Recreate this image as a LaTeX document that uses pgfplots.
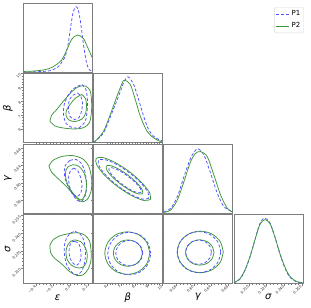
\documentclass[border=0pt]{standalone}
\usepackage{fontspec}
\setmainfont{DejaVu Sans}
\usepackage{pgfplots}
\pgfplotsset{compat=1.18}
\definecolor{pblue}{RGB}{80,80,255}
\definecolor{pgreen}{RGB}{60,150,60}
\definecolor{frame}{RGB}{125,125,125}
\pgfplotsset{
 corner/.style={scale only axis, width=69bp, height=69bp, anchor=north west,
   axis line style={draw=frame, line width=0.7bp},
   tick style={draw=frame, line width=0.35bp},
   major tick length=2bp, minor tick length=1.2bp,
   tick align=outside, tick pos=left, minor tick num=4,
   ticklabel style={font=\fontsize{3.6}{4}\selectfont, text=black!85},
   xticklabel style={rotate=45, anchor=east, inner sep=0.8bp},
   yticklabel style={rotate=45, anchor=east, inner sep=0.8bp},
   /pgf/number format/assume math mode=true,
   label style={font=\fontsize{6}{7}\selectfont},
   every axis x label/.style={at={(axis description cs:0.5,-0.2)}, anchor=center},
   every axis y label/.style={at={(axis description cs:-0.22,0.5)}, anchor=center, rotate=90},
 },
 epsx/.style={xmin=-0.55, xmax=0.25, xtick={-0.4,-0.2,0,0.2}},
 betax/.style={xmin=5, xmax=10, xtick={6,7,8,9,10}},
 gamx/.style={xmin=0.53, xmax=0.69, xtick={0.56,0.60,0.64,0.68}},
 sigx/.style={xmin=0.197, xmax=0.256, xtick={0.210,0.225,0.240,0.255}},
 betay/.style={ymin=5, ymax=10, ytick={6,7,8,9,10}},
 gamy/.style={ymin=0.53, ymax=0.69, ytick={0.56,0.60,0.64,0.68}},
 sigy/.style={ymin=0.197, ymax=0.256, ytick={0.210,0.225,0.240,0.255}},
 oned/.style={ymin=0, ymax=1, ytick=\empty},
 pone/.style={color=pblue, densely dashed, line width=0.75bp, smooth},
 ptwo/.style={color=pgreen, solid, line width=0.75bp, smooth},
}
\begin{document}
\begin{tikzpicture}
\useasboundingbox (0,0) rectangle (311bp,-308bp);
% ---------------- row 1: epsilon 1D
\begin{axis}[corner, at={(23bp,-3bp)}, epsx, oned, xticklabels={},
  legend style={at={(4.072,0.942)}, anchor=north east, draw=black!15, rounded corners=1.5bp,
    font=\fontsize{7}{8.5}\selectfont, inner sep=1.5bp, row sep=1.5bp},
  legend cell align=left,
  legend image code/.code={\draw[#1] (0bp,0bp) -- (13bp,0bp);}]
\addplot[pone] coordinates {(-0.55,0) (-0.45,0.002) (-0.35,0.006) (-0.30,0.010) (-0.237,0.019) (-0.141,0.077) (-0.063,0.222) (-0.025,0.416) (0.003,0.657) (0.033,0.874) (0.064,0.946) (0.091,0.899) (0.119,0.706) (0.149,0.416) (0.180,0.174) (0.207,0.054) (0.235,0.019) (0.25,0.012)};
\addlegendentry{P1}
\addplot[ptwo] coordinates {(-0.55,0.008) (-0.45,0.012) (-0.40,0.017) (-0.315,0.029) (-0.25,0.048) (-0.199,0.077) (-0.101,0.174) (-0.043,0.319) (0.015,0.474) (0.080,0.536) (0.149,0.488) (0.196,0.367) (0.25,0.213)};
\addlegendentry{P2}
\end{axis}
% ---------------- row 2
\begin{axis}[corner, at={(23bp,-73.5bp)}, epsx, betay, xticklabels={}, yticklabels={6,7,8,9,10}, ylabel={\textit{β}}]
\addplot[ptwo] coordinates {(-0.237,6.54) (-0.179,6.20) (-0.083,6.05) (0.053,5.98) (0.157,6.09) (0.221,6.45) (0.244,7.25) (0.244,8.12) (0.227,8.77) (0.175,9.09) (0.099,9.06) (0.018,8.70) (-0.075,8.04) (-0.159,7.39) (-0.220,6.96) (-0.237,6.54)};
\addplot[pone] coordinates {(0.134,9.20) (0.180,8.84) (0.198,7.97) (0.192,7.17) (0.169,6.52) (0.099,6.07) (0.018,6.09) (-0.051,6.38) (-0.080,7.03) (-0.075,7.68) (-0.028,8.41) (0.047,8.95) (0.134,9.20)};
\addplot[ptwo] coordinates {(0.131,8.48) (0.175,8.19) (0.186,7.68) (0.175,7.10) (0.134,6.70) (0.053,6.52) (-0.017,6.63) (-0.051,6.96) (-0.046,7.32) (-0.005,7.75) (0.053,8.19) (0.131,8.48)};
\addplot[pone] coordinates {(0.082,8.59) (0.122,8.33) (0.140,7.83) (0.128,7.25) (0.099,6.81) (0.047,6.67) (-0.005,6.88) (-0.022,7.39) (-0.017,7.97) (0.018,8.37) (0.082,8.59)};
\end{axis}
\begin{axis}[corner, at={(93.3bp,-73.5bp)}, betax, oned, xticklabels={}]
\addplot[pone] coordinates {(5.0,0.012) (5.145,0.019) (5.746,0.141) (6.355,0.430) (6.833,0.671) (7.196,0.865) (7.514,0.952) (7.920,0.841) (8.283,0.623) (8.645,0.381) (9.007,0.188) (9.370,0.091) (9.732,0.043) (10.0,0.025)};
\addplot[ptwo] coordinates {(5.0,0.010) (5.145,0.019) (5.746,0.164) (6.232,0.406) (6.717,0.671) (7.080,0.855) (7.246,0.903) (7.681,0.841) (8.043,0.623) (8.406,0.381) (8.891,0.164) (9.370,0.068) (9.804,0.019) (10.0,0.012)};
\end{axis}
% ---------------- row 3
\begin{axis}[corner, at={(23bp,-144bp)}, epsx, gamy, xticklabels={}, yticklabels={0.56,0.60,0.64,0.68}, ylabel={\textit{γ}}]
\addplot[ptwo] coordinates {(-0.249,0.639) (-0.202,0.652) (-0.101,0.661) (0.030,0.663) (0.146,0.655) (0.215,0.637) (0.247,0.607) (0.238,0.579) (0.192,0.561) (0.134,0.556) (0.076,0.564) (-0.040,0.590) (-0.144,0.610) (-0.220,0.625) (-0.249,0.639)};
\addplot[pone] coordinates {(-0.005,0.652) (0.064,0.654) (0.122,0.646) (0.169,0.625) (0.186,0.597) (0.175,0.572) (0.128,0.557) (0.076,0.560) (0.018,0.576) (-0.040,0.597) (-0.069,0.618) (-0.063,0.639) (-0.005,0.652)};
\addplot[ptwo] coordinates {(-0.028,0.637) (0.030,0.642) (0.099,0.638) (0.157,0.623) (0.186,0.600) (0.175,0.576) (0.134,0.561) (0.088,0.564) (0.018,0.579) (-0.034,0.597) (-0.057,0.616) (-0.051,0.630) (-0.028,0.637)};
\addplot[pone] coordinates {(0.035,0.634) (0.082,0.629) (0.117,0.613) (0.134,0.593) (0.117,0.575) (0.070,0.568) (0.018,0.576) (-0.011,0.593) (-0.022,0.611) (-0.005,0.626) (0.035,0.634)};
\end{axis}
\begin{axis}[corner, at={(93.3bp,-144bp)}, betax, gamy, xticklabels={}, yticklabels={}]
\addplot[ptwo] coordinates {(9.14,0.5615) (8.67,0.5590) (7.80,0.5699) (6.76,0.5912) (5.83,0.6172) (5.26,0.6411) (5.20,0.6561) (5.67,0.6587) (6.54,0.6478) (7.59,0.6265) (8.51,0.6005) (9.09,0.5766) (9.14,0.5615)};
\addplot[pone] coordinates {(9.02,0.5643) (8.59,0.5621) (7.78,0.5722) (6.82,0.5919) (5.96,0.6160) (5.43,0.6381) (5.37,0.6520) (5.80,0.6542) (6.61,0.6441) (7.57,0.6244) (8.43,0.6003) (8.96,0.5782) (9.02,0.5643)};
\addplot[ptwo] coordinates {(8.58,0.5752) (8.28,0.5741) (7.70,0.5817) (7.01,0.5963) (6.38,0.6135) (5.99,0.6290) (5.94,0.6388) (6.24,0.6399) (6.82,0.6323) (7.51,0.6177) (8.14,0.6005) (8.53,0.5850) (8.58,0.5752)};
\addplot[pone] coordinates {(8.46,0.5780) (8.20,0.5771) (7.70,0.5838) (7.09,0.5965) (6.54,0.6116) (6.19,0.6253) (6.14,0.6337) (6.41,0.6346) (6.91,0.6279) (7.52,0.6151) (8.07,0.6000) (8.42,0.5863) (8.46,0.5780)};
\end{axis}
\begin{axis}[corner, at={(163.6bp,-144bp)}, gamx, oned, xticklabels={}]
\addplot[pone] coordinates {(0.53,0.015) (0.5462,0.068) (0.5618,0.236) (0.5771,0.526) (0.5926,0.793) (0.6081,0.930) (0.6234,0.841) (0.6390,0.575) (0.6545,0.286) (0.6698,0.091) (0.6854,0.029) (0.69,0.020)};
\addplot[ptwo] coordinates {(0.53,0.008) (0.5462,0.043) (0.5618,0.188) (0.5771,0.454) (0.5926,0.743) (0.6042,0.865) (0.6158,0.890) (0.6313,0.816) (0.6466,0.551) (0.6622,0.261) (0.6777,0.068) (0.69,0.015)};
\end{axis}
% ---------------- row 4
\begin{axis}[corner, at={(23bp,-214.5bp)}, epsx, sigy, xticklabels={−0.4,−0.2,0.0,0.2}, yticklabels={0.210,0.225,0.240,0.255}, xlabel={\textit{ε}}, ylabel={\textit{σ}}]
\addplot[ptwo] coordinates {(-0.237,0.2300) (-0.196,0.2347) (-0.121,0.2378) (-0.028,0.2395) (0.088,0.2404) (0.169,0.2382) (0.221,0.2334) (0.238,0.2256) (0.238,0.2170) (0.204,0.2091) (0.146,0.2044) (0.076,0.2039) (-0.005,0.2070) (-0.098,0.2135) (-0.191,0.2191) (-0.231,0.2239) (-0.237,0.2300)};
\addplot[pone] coordinates {(0.053,0.2415) (0.117,0.2391) (0.157,0.2334) (0.175,0.2239) (0.163,0.2144) (0.128,0.2074) (0.076,0.2044) (0.018,0.2065) (-0.040,0.2126) (-0.069,0.2213) (-0.069,0.2300) (-0.040,0.2365) (0.007,0.2404) (0.053,0.2415)};
\addplot[ptwo] coordinates {(0.053,0.2343) (0.122,0.2326) (0.169,0.2282) (0.196,0.2213) (0.180,0.2144) (0.140,0.2109) (0.076,0.2104) (0.007,0.2130) (-0.040,0.2178) (-0.051,0.2248) (-0.028,0.2304) (0.012,0.2334) (0.053,0.2343)};
\addplot[pone] coordinates {(0.053,0.2330) (0.093,0.2313) (0.117,0.2265) (0.122,0.2200) (0.105,0.2148) (0.070,0.2126) (0.030,0.2144) (-0.005,0.2187) (-0.017,0.2248) (-0.005,0.2300) (0.018,0.2326) (0.053,0.2330)};
\end{axis}
\begin{axis}[corner, at={(93.3bp,-214.5bp)}, betax, sigy, xticklabels={6,7,8,9,10}, yticklabels={}, xlabel={\textit{β}}]
\addplot[ptwo] coordinates {(9.094,0.2230) (8.876,0.2321) (8.279,0.2388) (7.464,0.2412) (6.649,0.2388) (6.052,0.2321) (5.834,0.2230) (6.052,0.2139) (6.649,0.2072) (7.464,0.2048) (8.279,0.2072) (8.876,0.2139) (9.094,0.2230)};
\addplot[pone] coordinates {(9.167,0.2226) (8.958,0.2317) (8.388,0.2384) (7.609,0.2408) (6.830,0.2384) (6.260,0.2317) (6.051,0.2226) (6.260,0.2135) (6.830,0.2068) (7.609,0.2044) (8.388,0.2068) (8.958,0.2135) (9.167,0.2226)};
\addplot[ptwo] coordinates {(8.551,0.2230) (8.410,0.2286) (8.026,0.2328) (7.500,0.2343) (6.974,0.2328) (6.590,0.2286) (6.449,0.2230) (6.590,0.2174) (6.974,0.2132) (7.500,0.2117) (8.026,0.2132) (8.410,0.2174) (8.551,0.2230)};
\addplot[pone] coordinates {(8.587,0.2230) (8.456,0.2284) (8.098,0.2324) (7.609,0.2339) (7.120,0.2324) (6.762,0.2284) (6.631,0.2230) (6.762,0.2176) (7.120,0.2136) (7.609,0.2121) (8.098,0.2136) (8.456,0.2176) (8.587,0.2230)};
\end{axis}
\begin{axis}[corner, at={(163.6bp,-214.5bp)}, gamx, sigy, xticklabels={0.56,0.60,0.64,0.68}, yticklabels={}, xlabel={\textit{γ}}]
\addplot[ptwo] coordinates {(0.6684,0.2240) (0.6613,0.2329) (0.6418,0.2394) (0.6151,0.2418) (0.5884,0.2394) (0.5689,0.2329) (0.5618,0.2240) (0.5689,0.2151) (0.5884,0.2086) (0.6151,0.2062) (0.6418,0.2086) (0.6613,0.2151) (0.6684,0.2240)};
\addplot[pone] coordinates {(0.6625,0.2238) (0.6557,0.2326) (0.6373,0.2390) (0.6120,0.2414) (0.5867,0.2390) (0.5683,0.2326) (0.5615,0.2238) (0.5683,0.2150) (0.5867,0.2086) (0.6120,0.2062) (0.6373,0.2086) (0.6557,0.2150) (0.6625,0.2238)};
\addplot[ptwo] coordinates {(0.6468,0.2235) (0.6424,0.2289) (0.6304,0.2329) (0.6139,0.2344) (0.5974,0.2329) (0.5854,0.2289) (0.5810,0.2235) (0.5854,0.2181) (0.5974,0.2141) (0.6139,0.2127) (0.6304,0.2141) (0.6424,0.2181) (0.6468,0.2235)};
\addplot[pone] coordinates {(0.6409,0.2238) (0.6369,0.2290) (0.6260,0.2328) (0.6110,0.2342) (0.5960,0.2328) (0.5851,0.2290) (0.5811,0.2238) (0.5851,0.2186) (0.5960,0.2148) (0.6110,0.2134) (0.6260,0.2148) (0.6369,0.2186) (0.6409,0.2238)};
\end{axis}
\begin{axis}[corner, at={(233.9bp,-214.5bp)}, sigx, oned, xticklabels={0.210,0.225,0.240,0.255}, xlabel={\textit{σ}}]
\addplot[pone] coordinates {(0.197,0.010) (0.1979,0.015) (0.2021,0.060) (0.2063,0.180) (0.2107,0.380) (0.2150,0.635) (0.2192,0.870) (0.2232,0.950) (0.2278,0.880) (0.2321,0.675) (0.2363,0.430) (0.2406,0.225) (0.2449,0.090) (0.2506,0.022) (0.2557,0.010)};
\addplot[ptwo] coordinates {(0.197,0.012) (0.1979,0.019) (0.2021,0.069) (0.2063,0.191) (0.2107,0.387) (0.2150,0.632) (0.2192,0.853) (0.2235,0.926) (0.2278,0.868) (0.2321,0.672) (0.2363,0.437) (0.2406,0.240) (0.2449,0.103) (0.2506,0.029) (0.2557,0.015)};
\end{axis}
\end{tikzpicture}
\end{document}
